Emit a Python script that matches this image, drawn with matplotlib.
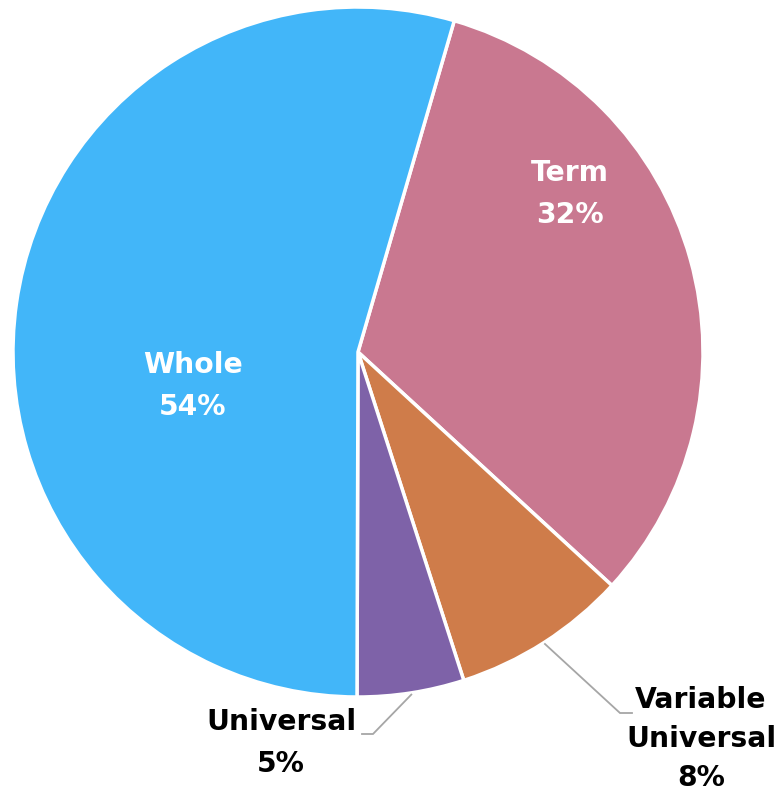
import numpy as np
import matplotlib
matplotlib.use("Agg")
import matplotlib.pyplot as plt

categories = ["Term", "Variable Universal", "Universal", "Whole"]
values = [32.3, 8.2, 5.0, 54.4]
colors = ["#C97890", "#CF7C4A", "#7E62A8", "#42B6F9"]
label_text = ["Term", "Variable\nUniversal", "Universal", "Whole"]

W, H = 782, 793
cx, cy, R = 358, 352, 345

fig = plt.figure(figsize=(W / 100, H / 100), dpi=100)
ax = fig.add_axes([0, 0, 1, 1])

start = 90 - 16.2
wedges, _ = ax.pie(values, colors=colors, startangle=start, counterclock=False,
                   radius=1.0, center=(0, 0), frame=True,
                   wedgeprops=dict(edgecolor="white", linewidth=2.5))
ax.set_xlim(-cx / R, (W - cx) / R)
ax.set_ylim(-(H - cy) / R, cy / R)
ax.axis("off")

def px(x, y):
    return (x - cx) / R, (cy - y) / R

total = sum(values)
pct = [f"{round(v / total * 100)}%" for v in values]

fs = 20.3
font = dict(fontsize=fs, fontweight="bold", family="DejaVu Sans",
            ha="center", va="center")

# inside labels
pos_in = {0: (570, 194), 3: (193, 386)}
for i, (x, y) in pos_in.items():
    ax.text(*px(x, y), f"{label_text[i]}\n{pct[i]}", color="white",
            linespacing=1.62, **font)

# outside labels with leader lines
pos_out = {1: (701, 739), 2: (281, 743)}
spacing = {1: 1.5, 2: 1.62}
elbows = {1: [(620, 713), (632, 713)], 2: [(373, 734), (362, 734)]}
for i, (x, y) in pos_out.items():
    ax.text(*px(x, y), f"{label_text[i]}\n{pct[i]}", color="black",
            linespacing=spacing[i], **font)
    w = wedges[i]
    mid = np.deg2rad((w.theta1 + w.theta2) / 2)
    sx, sy = 1.005 * np.cos(mid), 1.005 * np.sin(mid)
    pts = [(sx, sy)] + [px(a, b) for a, b in elbows[i]]
    ax.plot([p[0] for p in pts], [p[1] for p in pts], color="#A6A6A6", lw=1.3,
            solid_joinstyle="miter")

fig.savefig("out.png", dpi=100)
